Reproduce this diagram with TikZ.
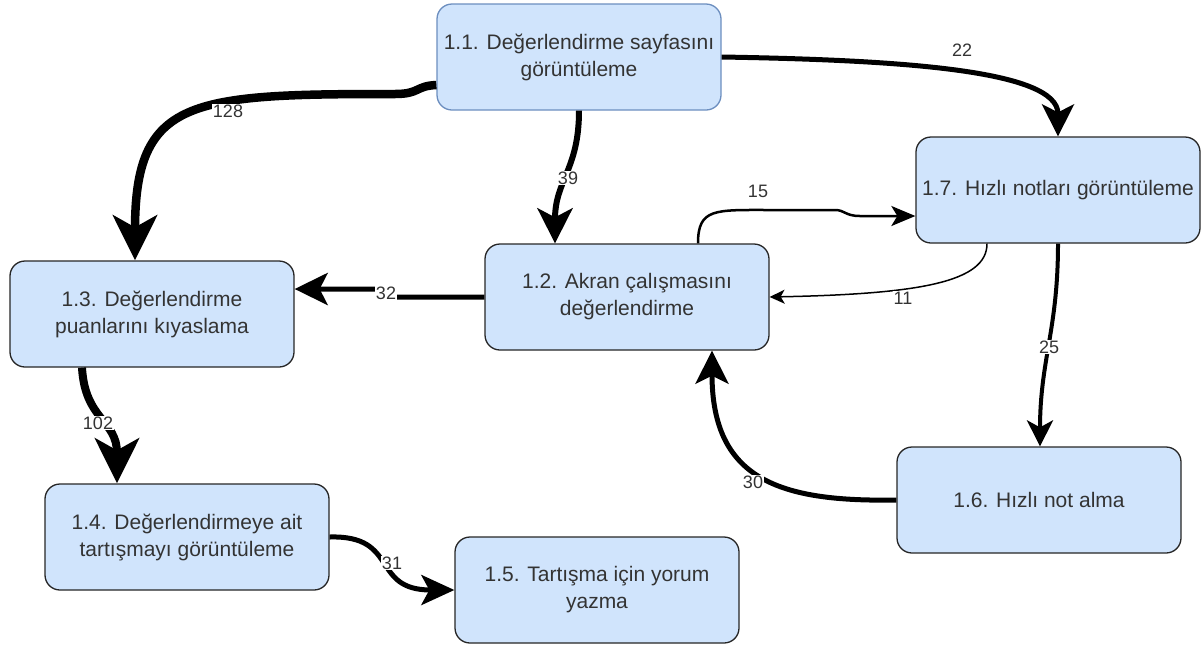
\documentclass[tikz,border=0pt]{standalone}
\usepackage{fontspec}
\setmainfont{Liberation Sans}
\usetikzlibrary{arrows.meta, positioning}
\definecolor{boxfill}{RGB}{208,228,252}
\definecolor{boxline}{RGB}{108,142,191}
\definecolor{txtgray}{RGB}{51,51,51}

\begin{document}
\begin{tikzpicture}[x=1pt, y=-1pt,
  task/.style={draw=black!85, fill=boxfill, rounded corners=15pt, line width=1.3pt,
    minimum width=284pt, minimum height=106pt, align=center, text=txtgray,
    font=\fontsize{21}{27}\selectfont, inner sep=3pt},
  count/.style={fill=white, text=txtgray, font=\fontsize{18}{20}\selectfont, inner sep=1pt},
  count bare/.style={count, fill=none}]
\useasboundingbox (0,0) rectangle (1202,649);

% Tasks
\node[task, draw=boxline] (n11) at (579,57) {1.1. Değerlendirme sayfasını\\görüntüleme};
\node[task] (n12) at (627,297) {1.2. Akran çalışmasını\\değerlendirme};
\node[task] (n13) at (152,314) {1.3. Değerlendirme\\puanlarını kıyaslama};
\node[task] (n14) at (187,537) {1.4. Değerlendirmeye ait\\tartışmayı görüntüleme};
\node[task] (n15) at (597,590) {1.5. Tartışma için yorum\\yazma};
\node[task] (n16) at (1039,500) {1.6. Hızlı not alma};
\node[task] (n17) at (1058,190) {1.7. Hızlı notları görüntüleme};

% 1.1 -> 1.3
\draw[line width=8.5pt, -{Stealth[length=45pt, width=44pt, inset=12pt]}]
  ([yshift=-28pt]n11.west) .. controls (415,86) and (420,94) .. (395,94)
  .. controls (190,94) and (135,98) .. ([xshift=-17pt]n13.north);

% 1.1 -> 1.2
\draw[line width=6pt, -{Stealth[length=35pt, width=35pt, inset=9pt]}]
  (n11.south) .. controls (579,170) and (555,180) .. ([xshift=-72pt]n12.north);

% 1.1 -> 1.7
\draw[line width=5pt, -{Stealth[length=32pt, width=32pt, inset=8pt]}]
  (n11.east) .. controls (900,60) and (1058,70) .. (n17.north);

% 1.2 -> 1.7
\draw[line width=2.5pt, -{Stealth[length=24pt, width=20pt, inset=6pt]}]
  ([xshift=71pt]n12.north) .. controls (698,208) and (715,210) .. (770,210) -- (835,210)
  .. controls (845,210) and (845,216) .. (860,216) -- ([yshift=-26pt]n17.west);

% 1.7 -> 1.2
\draw[line width=1.5pt, -{Stealth[length=15pt, width=14pt, inset=4pt]}]
  ([xshift=-71pt]n17.south) .. controls (987,282) and (920,294) .. (n12.east);

% 1.2 -> 1.3
\draw[line width=5pt, -{Stealth[length=33pt, width=32pt, inset=8pt]}]
  (n12.west) -- (395,297) -- (375,289) -- ([yshift=25pt]n13.east);

% 1.3 -> 1.4
\draw[line width=8pt, -{Stealth[length=45pt, width=44pt, inset=12pt]}]
  ([xshift=-70pt]n13.south) .. controls (85,420) and (117,420) .. ([xshift=-70pt]n14.north);

% 1.4 -> 1.5
\draw[line width=5pt, -{Stealth[length=33pt, width=30pt, inset=8pt]}]
  (n14.east) .. controls (400,535) and (370,590) .. (n15.west);

% 1.7 -> 1.6
\draw[line width=4pt, -{Stealth[length=26pt, width=26pt, inset=7pt]}]
  (n17.south) .. controls (1058,330) and (1040,360) .. ([xshift=1pt]n16.north);

% 1.6 -> 1.2
\draw[line width=5pt, -{Stealth[length=33pt, width=33pt, inset=8pt]}]
  (n16.west) .. controls (780,502) and (712,480) .. ([xshift=85pt]n12.south);

% Counts
\node[count] (c128) at (228,111) {128};
\node[count] (c39) at (568,178) {39};
\node[count bare] (c22) at (962,50) {22};
\node[count bare] (c15) at (758,191) {15};
\node[count] (c11) at (903,298) {11};
\node[count] (c32) at (386,293) {32};
\node[count] (c102) at (98,423) {102};
\node[count] (c31) at (392,563) {31};
\node[count] (c25) at (1049,347) {25};
\node[count] (c30) at (753,482) {30};
\end{tikzpicture}
\end{document}
